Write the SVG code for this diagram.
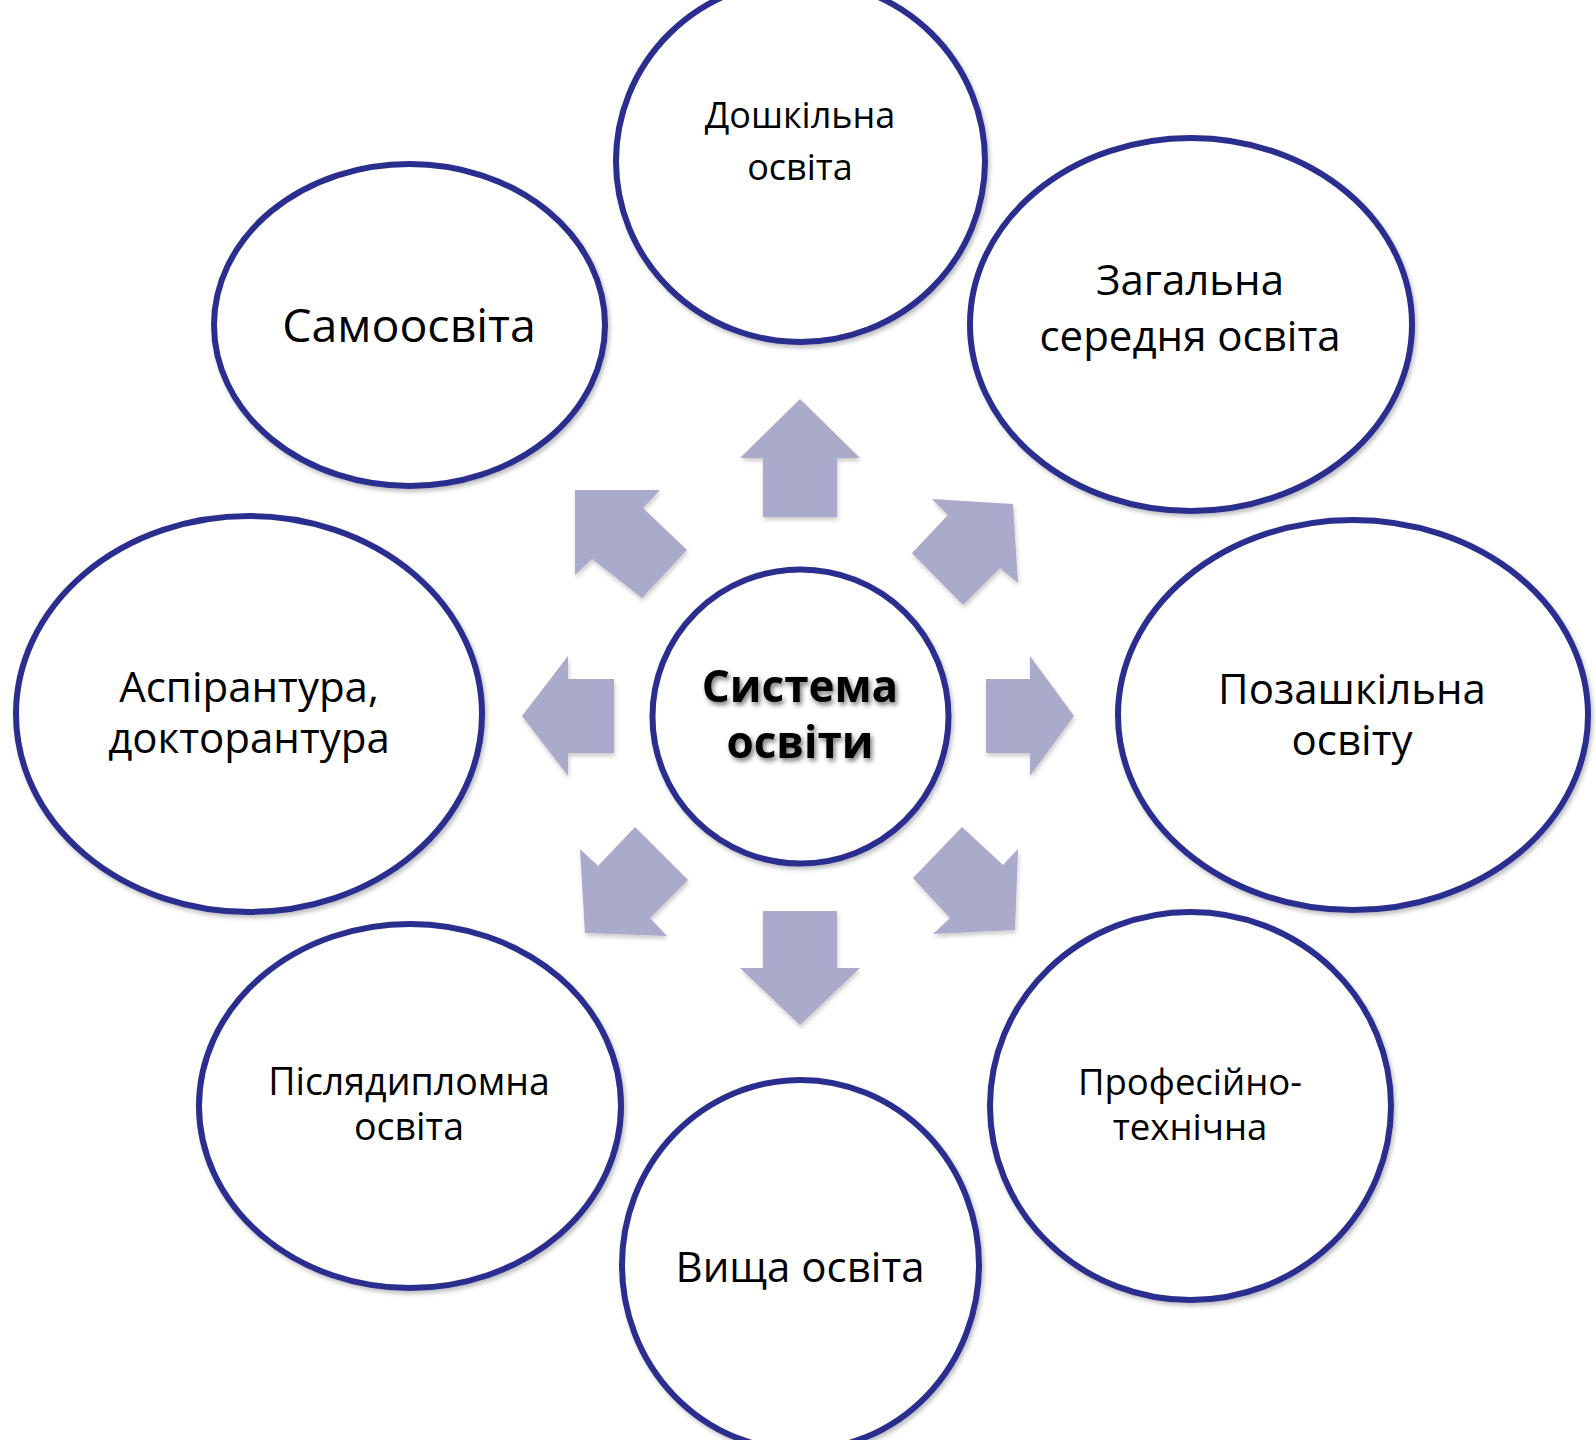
<svg xmlns="http://www.w3.org/2000/svg" width="1596" height="1440" viewBox="0 0 1596 1440">
<defs>
<filter id="sh" x="-10%" y="-10%" width="120%" height="120%">
<feDropShadow dx="2" dy="3" stdDeviation="2" flood-color="#000" flood-opacity="0.25"/>
</filter>
<filter id="ash" x="-10%" y="-10%" width="130%" height="130%">
<feDropShadow dx="1" dy="3" stdDeviation="2" flood-color="#000" flood-opacity="0.2"/>
</filter>
<filter id="glow" x="-10%" y="-20%" width="120%" height="140%">
<feGaussianBlur in="SourceAlpha" stdDeviation="2.5" result="b"/>
<feOffset in="b" dx="2" dy="3" result="o"/>
<feComponentTransfer in="o" result="s"><feFuncA type="linear" slope="0.55"/></feComponentTransfer>
<feMerge><feMergeNode in="s"/><feMergeNode in="SourceGraphic"/></feMerge>
</filter>
</defs>
<style>
.node ellipse{fill:#fff;stroke:#2C2D8F;stroke-width:6;filter:url(#sh)}
.t{font-family:"Open Sans","Noto Sans","DejaVu Sans",sans-serif;fill:#000;text-anchor:middle}
.s{font-size:36px}
.l{font-size:42px}
.c{font-family:"Open Sans","Noto Sans","DejaVu Sans",sans-serif;font-weight:bold;font-size:44px;text-anchor:middle;fill:#000;filter:url(#glow)}
.arr polygon{fill:#AAAACB;filter:url(#ash)}
</style>
<rect width="1596" height="1440" fill="#fff"/>
<g id="connectors" class="arr">
<polygon points="800,399 860,458 837,458 837,517 763,517 763,458 740,458"/>
<polygon points="763,911 837,911 837,968 860,968 800,1025 740,968 763,968"/>
<polygon points="986,679 1030,679 1030,656 1074,716 1030,776 1030,753 986,753"/>
<polygon points="522,716 568,656 568,679 614,679 614,753 568,753 568,776"/>
<polygon points="575,490 660,490 643,508 687,550 642,598 592,559 575,575"/>
<polygon points="932,499 1013,504 1018,583 1000,568 963,605 912,553 948,515"/>
<polygon points="635,827 688,880 650,918 667,936 585,933 580,849 598,866"/>
<polygon points="962,827 1003,865 1018,849 1015,930 933,934 950,918 913,878"/>
</g>
<g id="center" class="node">
<ellipse cx="800.5" cy="716.5" rx="148" ry="147"/>
<text class="c"><tspan x="800" y="702">Система</tspan><tspan x="800" y="758">освіти</tspan></text>
</g>
<g id="doshkilna" class="node">
<ellipse cx="800.5" cy="161" rx="184.5" ry="181"/>
<text class="t s"><tspan x="800" y="128">Дошкільна</tspan><tspan x="800" y="180">освіта</tspan></text>
</g>
<g id="zahalna" class="node">
<ellipse cx="1191" cy="324.5" rx="221" ry="186.5"/>
<text class="t l"><tspan x="1190" y="295">Загальна</tspan><tspan x="1190" y="351">середня освіта</tspan></text>
</g>
<g id="pozashkilna" class="node">
<ellipse cx="1353" cy="715" rx="235" ry="195"/>
<text class="t l"><tspan x="1352" y="704">Позашкільна</tspan><tspan x="1352" y="755">освіту</tspan></text>
</g>
<g id="profesiyno" class="node">
<ellipse cx="1190.5" cy="1106" rx="200.5" ry="194"/>
<text class="t" style="font-size:36.5px"><tspan x="1190" y="1095">Професійно-</tspan><tspan x="1190" y="1140">технічна</tspan></text>
</g>
<g id="vyshcha" class="node">
<ellipse cx="800.5" cy="1265" rx="178.5" ry="185"/>
<text class="t l" x="800" y="1282">Вища освіта</text>
</g>
<g id="pisliadyplomna" class="node">
<ellipse cx="410" cy="1106" rx="211" ry="182"/>
<text class="t" style="font-size:37.5px"><tspan x="409" y="1095">Післядипломна</tspan><tspan x="409" y="1140">освіта</tspan></text>
</g>
<g id="aspirantura" class="node">
<ellipse cx="249" cy="714" rx="233" ry="198"/>
<text class="t l"><tspan x="249" y="702">Аспірантура,</tspan><tspan x="249" y="753">докторантура</tspan></text>
</g>
<g id="samoosvita" class="node">
<ellipse cx="409.5" cy="325" rx="195.5" ry="161"/>
<text class="t" style="font-size:46.5px" x="409" y="342">Самоосвіта</text>
</g>
</svg>
